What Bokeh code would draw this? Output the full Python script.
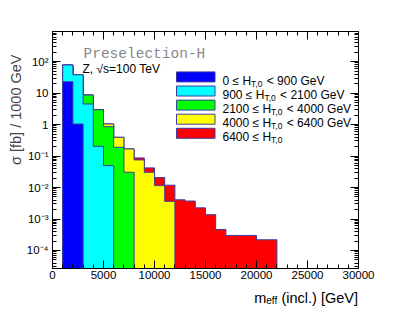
import math
from bokeh.plotting import figure
from bokeh.layouts import column
from bokeh.models import (Range1d, LogAxis, LinearAxis, FixedTicker, SingleIntervalTicker,
                          CustomJSTickFormatter, Label, BoxAnnotation, Title)
from bokeh.embed import file_html
from bokeh.resources import INLINE

# ---------------- data (sigma [fb] / 1000 GeV per m_eff bin) ----------------
bin_edges = [1000, 2000, 3000, 4000, 5000, 6000, 7000, 8000, 9000, 10000, 11000,
             12000, 13000, 14000, 15000, 16000, 17000, 18000, 19000, 20000, 21000, 22000]
ht_0_900 = [22.9, 1.04, 0, 0, 0, 0, 0, 0, 0, 0, 0, 0, 0, 0, 0, 0, 0, 0, 0, 0, 0]
ht_900_2100 = [54.5, 37.1, 4.49, 0.203, 0.0497, 0, 0, 0, 0, 0, 0, 0, 0, 0, 0, 0, 0, 0, 0, 0, 0]
ht_2100_4000 = [0, 0, 4.18, 2.77, 0.807, 0.189, 0.0305, 0, 0, 0, 0, 0, 0, 0, 0, 0, 0, 0, 0, 0, 0]
ht_4000_6400 = [0, 0, 0, 0, 0.183, 0.204, 0.1375, 0.0753, 0.0305, 0.0115, 0.00364,
                0, 0, 0, 0, 0, 0, 0, 0, 0, 0]
ht_6400_up = [0, 0, 0, 0, 0, 0, 0, 0.0118, 0.0115, 0.0092, 0.0082, 0.00406, 0.00372,
              0.00226, 0.00137, 0.000465, 0.0003, 0.0003, 0.0003, 0.000219, 0.000219]
legend_lo = ["0", "900", "2100", "4000", "6400"]
legend_hi = ["900", "2100", "4000", "6400", None]
y_decades = [-4, -3, -2, -1, 0, 1, 2]
x_major_step = 5000

series = [ht_0_900, ht_900_2100, ht_2100_4000, ht_4000_6400, ht_6400_up]
colors = ["#0000ff", "#00ffff", "#00ff00", "#ffff00", "#ff0000"]
edge_col = "#3c3ca0"
FONT = "Liberation Sans"

# ---------------- main figure ----------------
W, H = 396, 290
FL, FT, FW, FH = 52, 31, 306, 237
FR = W - FL - FW
p = figure(width=W, height=H, x_range=Range1d(0, 30000), y_range=Range1d(2.68e-5, 900),
           y_axis_type="log", output_backend="svg", toolbar_location=None,
           min_border_left=FL, min_border_top=FT, min_border_right=FR,
           min_border_bottom=H - FT - FH, background_fill_color="white",
           border_fill_color="white", outline_line_color="black")
p.grid.visible = False

# stacked histograms: draw cumulative from top (total) down
nb = len(bin_edges) - 1
running = [0.0] * nb
cum = []
for s in series:
    running = [r + v for r, v in zip(running, s)]
    cum.append(running)
floor = 1e-8
for k in reversed(range(len(series))):
    c = cum[k]
    nz = [i for i, v in enumerate(c) if v > 0]
    i0, i1 = nz[0], nz[-1]
    xs = [bin_edges[i0]]
    ys = [floor]
    for i in range(i0, i1 + 1):
        xs += [bin_edges[i], bin_edges[i + 1]]
        ys += [c[i], c[i]]
    xs.append(bin_edges[i1 + 1])
    ys.append(floor)
    p.patch(xs, ys, fill_color=colors[k], line_color=edge_col, line_width=1)

# ---------------- axes ----------------
sup = {"-": "\u207b", "0": "\u2070", "1": "\u00b9", "2": "\u00b2", "3": "\u00b3",
       "4": "\u2074", "5": "\u2075", "6": "\u2076", "7": "\u2077", "8": "\u2078", "9": "\u2079"}
yfmt = CustomJSTickFormatter(args=dict(sup=sup), code="""
const e = Math.round(Math.log10(tick));
if (e == 0) return "1";
if (e == 1) return "10";
return "10" + String(e).split("").map(c => sup[c]).join("");
""")
ymaj = [10.0 ** d for d in y_decades] + [1000.0]
ymin = [m * 10.0 ** d for d in [-5] + y_decades for m in range(2, 10)]
yticker = FixedTicker(ticks=ymaj, minor_ticks=ymin)
xticker = SingleIntervalTicker(interval=x_major_step, num_minor_ticks=5)
empty = CustomJSTickFormatter(code="return '';")


def style(ax):
    ax.axis_line_color = "black"
    ax.major_tick_line_color = "black"
    ax.minor_tick_line_color = "black"
    ax.major_tick_in = 8
    ax.major_tick_out = 0
    ax.minor_tick_in = 4
    ax.minor_tick_out = 0
    ax.major_label_text_font = FONT
    ax.major_label_text_font_size = "11.5px"
    ax.major_label_text_color = "black"


p.yaxis.ticker = yticker
p.yaxis.formatter = yfmt
p.yaxis.major_label_standoff = 4
p.xaxis.ticker = xticker
p.xaxis.major_label_standoff = 2
style(p.xaxis[0])
style(p.yaxis[0])

ra = LogAxis(ticker=yticker, formatter=empty, major_label_standoff=0)
style(ra)
p.add_layout(ra, "right")
ta = LinearAxis(ticker=xticker, formatter=empty, major_label_standoff=0)
style(ta)
p.add_layout(ta, "above")

# ---------------- texts ----------------
ADV = {"0": 556, "1": 556, "2": 556, "3": 556, "4": 556, "5": 556, "6": 556, "7": 556,
       "8": 556, "9": 556, " ": 278, "\u2264": 549, "H": 722, "<": 584, "G": 778, "e": 556,
       "V": 667, "T": 611, ",": 278, "m": 833, "f": 278, "(": 333, ")": 333, "i": 222,
       "n": 556, "c": 500, "l": 222, ".": 278, "[": 278, "]": 278}


def tw(s, size):
    return sum(ADV.get(ch, 556) for ch in s) * size / 1000.0


def lab(fig, x, y, text, size, left=FL, bottom=FT + FH, **kw):
    # x, y: page pixel position; converted to frame-relative screen units
    kw.setdefault("text_font", FONT)
    kw.setdefault("text_color", "black")
    kw.setdefault("text_baseline", "alphabetic")
    fig.add_layout(Label(x=x - left, y=bottom - y, x_units="screen", y_units="screen",
                         text=text, text_font_size=f"{size}px", **kw))


lab(p, 83, 53.3, "Preselection-H", 14.5, text_font="Liberation Mono", text_color="#888888")
lab(p, 82, 68, "Z, \u221as=100 TeV", 12)

# y title as a Title in the left panel, aligned to the top end of the frame
ytitle = Title(text="\u03c3 [fb] / 1000 GeV", align="right", text_font=FONT,
               text_font_size="14.5px", text_font_style="normal", standoff=0, offset=23)
p.add_layout(ytitle, "left")

# legend
for j in range(5):
    cy = 76.4 + 14.1 * j
    p.add_layout(BoxAnnotation(left=176 - FL, right=214.5 - FL, bottom=(FT + FH) - (cy + 5),
                               top=(FT + FH) - (cy - 5), left_units="screen",
                               right_units="screen", top_units="screen",
                               bottom_units="screen", fill_color=colors[j], fill_alpha=1.0,
                               line_color=edge_col, line_width=1, line_alpha=1.0))
    main = f"{legend_lo[j]} \u2264 H"
    x0 = 222
    lab(p, x0, cy + 3.8, main, 12)
    x1 = x0 + tw(main, 12)
    lab(p, x1, cy + 6.8, "T,0", 8.5)
    if legend_hi[j] is not None:
        tail = f"< {legend_hi[j]} GeV"
        lab(p, x1 + tw("T,0", 8.5) + tw(" ", 12), cy + 3.8, tail, 12)

# ---------------- x title strip (below the main figure, frame aligned with it) --------
H2 = 23
p2 = figure(width=W, height=H2, x_range=Range1d(0, 1), y_range=Range1d(0, 1),
            x_axis_location=None, y_axis_location=None, output_backend="svg",
            toolbar_location=None, min_border_left=FL, min_border_right=FR,
            min_border_top=0, min_border_bottom=0, outline_line_color=None,
            background_fill_color="white", border_fill_color="white")
p2.grid.visible = False
xs_main, xs_sub, xs_tail = "m", "eff", "(incl.) [GeV]"
right = 357.5
sp = tw(" ", 14.5)
t_w = tw(xs_tail, 14.5)
s_w = tw(xs_sub, 10)
m_w = tw(xs_main, 14.5)
xb = 297
lab(p2, right - t_w - sp - s_w - m_w, xb, xs_main, 14.5, left=FL, bottom=H + H2)
lab(p2, right - t_w - sp - s_w, xb + 3, xs_sub, 10, left=FL, bottom=H + H2)
lab(p2, right - t_w, xb, xs_tail, 14.5, left=FL, bottom=H + H2)

layout = column(p, p2, spacing=0)
open("out.html", "w").write(file_html(layout, INLINE))
